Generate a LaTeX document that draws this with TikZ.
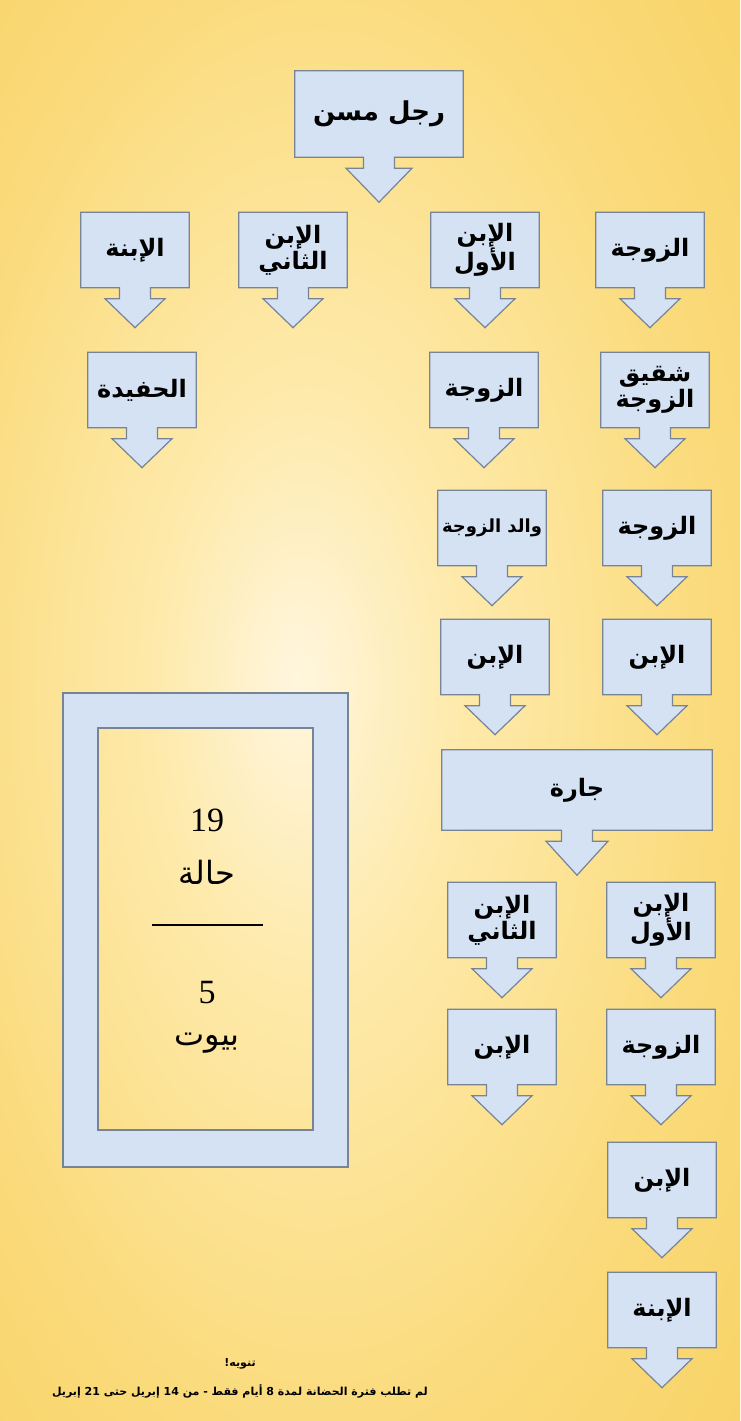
\documentclass[tikz,border=0pt]{standalone}
\usepackage{fontspec}
\usepackage{xcolor}
\usepackage{tikz}
\usetikzlibrary{calc}
\TeXXeTstate=1
\newfontfamily\arabicfont[Script=Arabic]{DejaVu Sans}
\newfontfamily\numfont{Liberation Serif}
\newcommand{\artxt}[1]{\beginR #1\endR}
\newcommand{\boxfont}{\arabicfont\bfseries\fontsize{24}{26}\selectfont}
\definecolor{boxfill}{RGB}{212,226,243}
\definecolor{boxline}{RGB}{118,132,150}
\definecolor{bgcenter}{RGB}{255,246,222}
\definecolor{bglight}{RGB}{254,234,172}
\definecolor{bgmid}{RGB}{250,218,122}
\definecolor{bgedge}{RGB}{247,204,86}
\definecolor{bgcorner}{RGB}{245,192,62}
\pgfdeclareradialshading{bgglow}{\pgfpoint{-5bp}{1bp}}{color(0bp)=(bgcenter); color(10bp)=(bglight); color(27bp)=(bgmid); color(48bp)=(bgedge); color(72bp)=(bgcorner)}
\pgfdeclarelayer{back}
\pgfdeclarelayer{boxes}
\pgfsetlayers{back,boxes,main}

\begin{document}
\begin{tikzpicture}[x=1pt, y=-1pt]
	\newcommand{\shaftw}{15.5}
	\newcommand{\notchl}{11}
	\tikzstyle{famnode}=[minimum width=108, minimum height=75, inner sep=0, align=center, font=\boxfont]
	\tikzstyle{famshape}=[fill=boxfill, draw=boxline, line width=1.2]
	\tikzstyle{countnode}=[inner sep=0, font=\arabicfont\fontsize{32}{34}\selectfont]
	\tikzstyle{notenode}=[inner sep=0, font=\arabicfont\bfseries\fontsize{11}{12}\selectfont]
	\useasboundingbox (0,0) rectangle (740,1421);
	\begin{pgfonlayer}{back}
		\shade[shading=bgglow] (0,0) rectangle (740,1421);
	\end{pgfonlayer}
	% family boxes
	\node[famnode, minimum width=168, minimum height=86, font=\arabicfont\bfseries\fontsize{26}{28}\selectfont] (oldman) at (379,114) {\artxt{رجل مسن}};
	\node[famnode, minimum width=270, minimum height=80] (neighbour) at (577,790) {\artxt{جارة}};
	\node[famnode, font=\arabicfont\bfseries\fontsize{18}{20}\selectfont] (inlawfather) at (492,528) {\artxt{والد الزوجة}};
	\foreach \n/\x/\y/\t in {daughter/135/250/{\artxt{الإبنة}}, secondson/293/250/{\artxt{الإبن}\\\artxt{الثاني}},
		firstson/485/250/{\artxt{الإبن}\\\artxt{الأول}}, wife/650/250/{\artxt{الزوجة}},
		granddaughter/142/390/{\artxt{الحفيدة}}, firstsonwife/484/390/{\artxt{الزوجة}}, wifebrother/655/390/{\artxt{شقيق}\\\artxt{الزوجة}},
		brotherwife/657/528/{\artxt{الزوجة}},
		inlawson/495/657/{\artxt{الإبن}}, brotherson/657/657/{\artxt{الإبن}},
		nbsecondson/502/920/{\artxt{الإبن}\\\artxt{الثاني}}, nbfirstson/661/920/{\artxt{الإبن}\\\artxt{الأول}},
		nbgrandson/502/1047/{\artxt{الإبن}}, nbsonwife/661/1047/{\artxt{الزوجة}},
		nbsonson/662/1180/{\artxt{الإبن}}, nbsondaughter/662/1310/{\artxt{الإبنة}}}
		{\node[famnode] (\n) at (\x,\y) {\t}; }
	\begin{pgfonlayer}{boxes}
		\foreach \n/\hw/\hh in {oldman/33/34, neighbour/31/34, daughter/30/29, secondson/30/29, firstson/30/29, wife/30/29,
			granddaughter/30/29, firstsonwife/30/29, wifebrother/30/29, inlawfather/30/29, brotherwife/30/29,
			inlawson/30/29, brotherson/30/29, nbsecondson/30/29, nbfirstson/30/29, nbgrandson/30/29,
			nbsonwife/30/29, nbsonson/30/29, nbsondaughter/30/29}
			{\draw[famshape] (\n.north west) -- (\n.north east) -- (\n.south east)
				-- ($(\n.south)+(\shaftw,0)$) -- ++(0,\notchl) -- ($(\n.south)+(\hw,\notchl)$)
				-- ($(\n.south)+(0,\notchl+\hh)$) -- ($(\n.south)+(-\hw,\notchl)$)
				-- ($(\n.south)+(-\shaftw,\notchl)$) -- ($(\n.south)+(-\shaftw,0)$)
				-- (\n.south west) -- cycle; }
		% count frame
		\draw[famshape, even odd rule] (63,693) rectangle (348,1167) (98,728) rectangle (313,1130);
	\end{pgfonlayer}
	\node[countnode, font=\numfont\fontsize{34}{36}\selectfont] (cases) at (207,820) {19};
	\node[countnode] (caseword) at (207,872) {\artxt{حالة}};
	\coordinate (ruleL) at (152,925);
	\coordinate (ruleR) at (263,925);
	\draw[line width=2] (ruleL) -- (ruleR);
	\node[countnode, font=\numfont\fontsize{34}{36}\selectfont] (houses) at (207,993) {5};
	\node[countnode] (houseword) at (207,1043) {\artxt{بيوت}};
	% note
	\node[notenode] (notehead) at (240,1364) {\artxt{تنويه!}};
	\node[notenode] (notetext) at (240,1391) {\artxt{لم تطلب فترة الحضانة لمدة \beginL 8\endL{} أيام فقط - من \beginL 14\endL{} إبريل حتى \beginL 21\endL{} إبريل}};
\end{tikzpicture}
\end{document}
